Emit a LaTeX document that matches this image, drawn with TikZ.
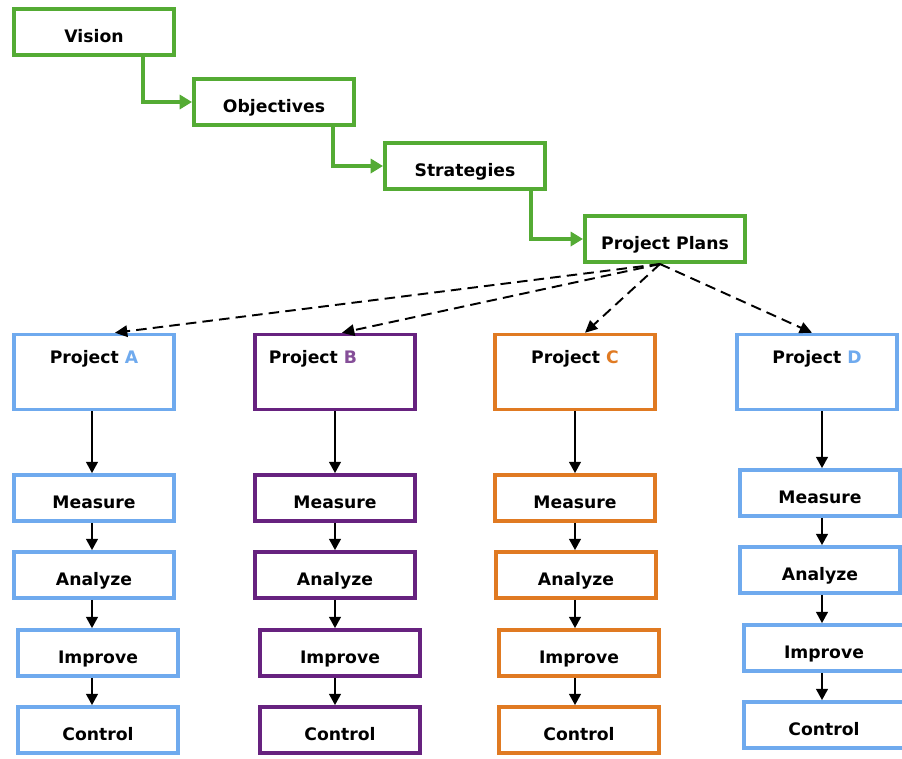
\documentclass[tikz,border=0pt]{standalone}
\usepackage{fontspec}
\setmainfont{DejaVu Sans}
\usetikzlibrary{arrows.meta}
\definecolor{planGreen}{HTML}{54AB34}
\definecolor{projBlue}{HTML}{6FAAEE}
\definecolor{projPurple}{HTML}{67227F}
\definecolor{projOrange}{HTML}{E07A22}

\begin{document}
\begin{tikzpicture}[x=0.02cm,y=-0.02cm,
  box/.style={draw,fill=white,line width=2pt,minimum width=3.2cm,minimum height=0.92cm,
    inner sep=0pt,text height=11.5pt,text depth=0pt,font=\fontsize{9.8}{11}\selectfont\bfseries},
  planbox/.style={box,draw=planGreen,line width=2.3pt},
  projbox/.style={box,minimum height=1.5cm},
  title/.style={font=\fontsize{9.8}{11}\selectfont\bfseries},
  green arrow/.style={draw=planGreen,line width=2.3pt,-{Triangle[length=7pt,width=8pt,fill=planGreen]}},
  fan arrow/.style={dash pattern=on 6pt off 3.5pt,line width=1.1pt,-{Triangle[length=7pt,width=6.5pt]}},
  dmaic arrow/.style={line width=1.6pt,-{Triangle[length=6.5pt,width=6.5pt]}}]
  \useasboundingbox (0,0) rectangle (902,758);

  \node[planbox] (vis) at (94,32) {Vision};
  \node[planbox] (obj) at (274,102) {Objectives};
  \node[planbox] (str) at (465,166) {Strategies};
  \node[planbox] (pp) at (665,239) {Project Plans};
  \draw[green arrow] ([xshift=0.98cm]vis.south) |- (obj.west);
  \draw[green arrow] ([xshift=1.18cm]obj.south) |- (str.west);
  \draw[green arrow] ([xshift=1.32cm]str.south) |- (pp.west);

  \node[projbox,draw=projBlue] (pa) at (94,372) {};
  \node[projbox,draw=projPurple] (pb) at (335,372) {};
  \node[projbox,draw=projOrange] (pc) at (575,372) {};
  \node[projbox,draw=projBlue] (pd) at (817,372) {};
  \node[title] (ta) at ([yshift=-0.52cm]pa.north) {Project \textcolor{projBlue}{A}};
  \node[title] (tb) at ([xshift=-0.44cm,yshift=-0.52cm]pb.north) {Project \textcolor{projPurple!80}{B}};
  \node[title] (tc) at ([yshift=-0.52cm]pc.north) {Project \textcolor{projOrange}{C}};
  \node[title] (td) at ([yshift=-0.52cm]pd.north) {Project \textcolor{projBlue}{D}};

  \coordinate (hub) at ([xshift=-0.1cm]pp.south);
  \draw[fan arrow] (hub) -- ([xshift=0.42cm]pa.north);
  \draw[fan arrow] (hub) -- ([xshift=0.14cm]pb.north);
  \draw[fan arrow] (hub) -- ([xshift=0.2cm]pc.north);
  \draw[fan arrow] (hub) -- ([xshift=-0.1cm]pd.north);

  \node[box,draw=projBlue] (ma) at (94,498) {Measure};
  \node[box,draw=projBlue] (aa) at (94,575) {Analyze};
  \node[box,draw=projBlue] (ia) at (98,653) {Improve};
  \node[box,draw=projBlue] (ca) at (98,730) {Control};

  \node[box,draw=projPurple] (mb) at (335,498) {Measure};
  \node[box,draw=projPurple] (ab) at (335,575) {Analyze};
  \node[box,draw=projPurple] (ib) at (340,653) {Improve};
  \node[box,draw=projPurple] (cb) at (340,730) {Control};

  \node[box,draw=projOrange] (mc) at (575,498) {Measure};
  \node[box,draw=projOrange] (ac) at (576,575) {Analyze};
  \node[box,draw=projOrange] (ic) at (579,653) {Improve};
  \node[box,draw=projOrange] (cc) at (579,730) {Control};

  \node[box,draw=projBlue] (md) at (820,493) {Measure};
  \node[box,draw=projBlue] (ad) at (820,570) {Analyze};
  \node[box,draw=projBlue] (id) at (824,648) {Improve};
  \node[box,draw=projBlue] (cd) at (824,725) {Control};

  \draw[dmaic arrow] ([xshift=-0.04cm]pa.south) -- ([xshift=-0.04cm]pa.south |- ma.north);
  \draw[dmaic arrow] ([xshift=-0.04cm]ma.south) -- ([xshift=-0.04cm]ma.south |- aa.north);
  \draw[dmaic arrow] ([xshift=-0.04cm]aa.south) -- ([xshift=-0.04cm]aa.south |- ia.north);
  \draw[dmaic arrow] ([xshift=-0.04cm]aa.south |- ia.south) -- ([xshift=-0.04cm]aa.south |- ca.north);

  \draw[dmaic arrow] (pb.south) -- (pb.south |- mb.north);
  \draw[dmaic arrow] (mb.south) -- (mb.south |- ab.north);
  \draw[dmaic arrow] (ab.south) -- (ab.south |- ib.north);
  \draw[dmaic arrow] (ab.south |- ib.south) -- (ab.south |- cb.north);

  \draw[dmaic arrow] (pc.south) -- (pc.south |- mc.north);
  \draw[dmaic arrow] (pc.south |- mc.south) -- (pc.south |- ac.north);
  \draw[dmaic arrow] (pc.south |- ac.south) -- (pc.south |- ic.north);
  \draw[dmaic arrow] (pc.south |- ic.south) -- (pc.south |- cc.north);

  \draw[dmaic arrow] ([xshift=0.1cm]pd.south) -- ([xshift=0.1cm]pd.south |- md.north);
  \draw[dmaic arrow] ([xshift=0.1cm]pd.south |- md.south) -- ([xshift=0.1cm]pd.south |- ad.north);
  \draw[dmaic arrow] ([xshift=0.1cm]pd.south |- ad.south) -- ([xshift=0.1cm]pd.south |- id.north);
  \draw[dmaic arrow] ([xshift=0.1cm]pd.south |- id.south) -- ([xshift=0.1cm]pd.south |- cd.north);
\end{tikzpicture}
\end{document}
